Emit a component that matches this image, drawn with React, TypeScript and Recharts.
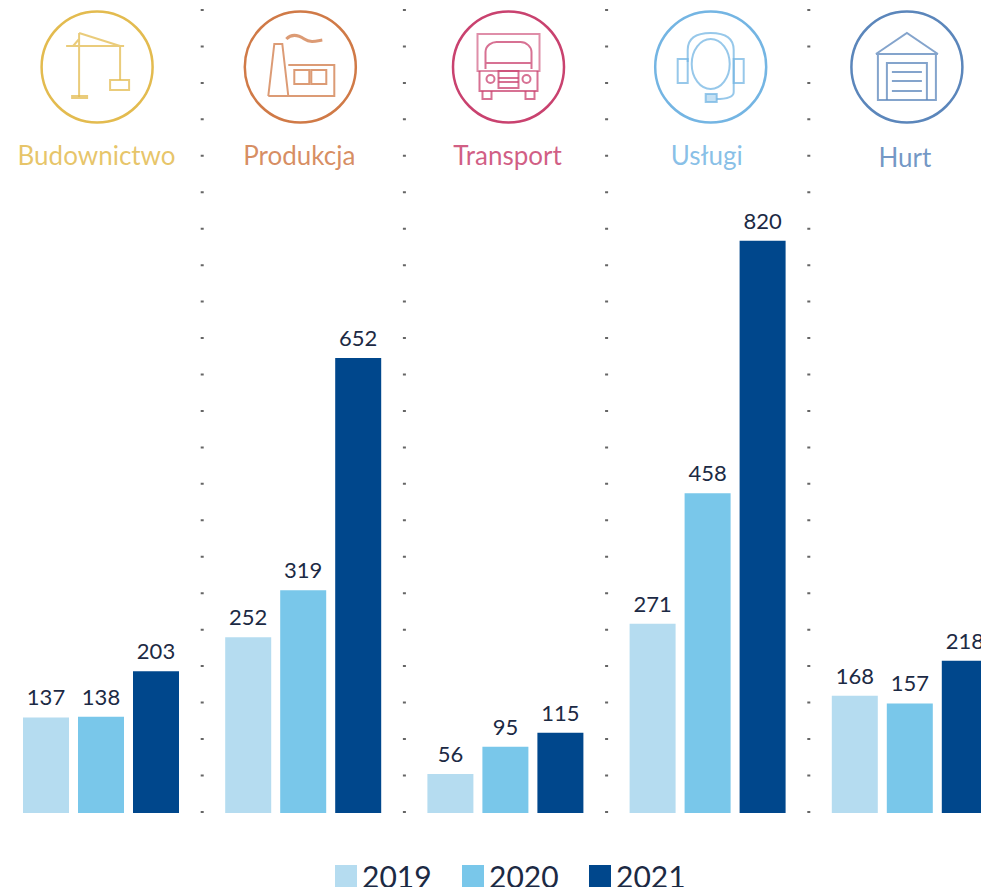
import React from "react"
import { BarChart, Bar, XAxis, YAxis, CartesianGrid, LabelList, Legend } from "recharts"

const categories = ["Budownictwo", "Produkcja", "Transport", "Usługi", "Hurt"]
const values2019 = [137, 252, 56, 271, 168]
const values2020 = [138, 319, 95, 458, 157]
const values2021 = [203, 652, 115, 820, 218]

const data = categories.map((name, i) => ({
  name,
  y2019: values2019[i],
  y2020: values2020[i],
  y2021: values2021[i],
}))

const FONT = "Lato, 'Open Sans', sans-serif"

function Crane() {
  return (
    <g>
      <path d="M-18 -34V30M-31 -21H27M-18 -34L23 -21M-24 -21L-18 -28M23 -21V13" />
      <rect x="13" y="13" width="19" height="10" />
      <path d="M-26 30H-9" strokeWidth={4} />
    </g>
  )
}

function Factory() {
  return (
    <g>
      <path d="M-32 29L-26 -23H-18L-12 29M-32 29H34V-2H-12" />
      <rect x="-6" y="3" width="15" height="14" />
      <rect x="11" y="3" width="15" height="14" />
      <path d="M-14 -28C-8 -34 -2 -32 4 -28C10 -24 16 -26 22 -27" strokeWidth={3} />
    </g>
  )
}

function Truck() {
  return (
    <g>
      <rect x="-31" y="-33" width="62" height="37" strokeOpacity={0.6} />
      <path d="M-23 2V-15C-23 -22 -16 -25 -12 -25H12C18 -25 23 -20 23 -15V2M-23 -4H23" />
      <path d="M-29 4V24H29V4" />
      <rect x="-10" y="4" width="20" height="17" />
      <path d="M-10 11H10M-10 15H10" />
      <circle cx="-18" cy="12" r="4" />
      <circle cx="18" cy="12" r="4" />
      <path d="M-26 24V32H-17V24M17 24V32H26V24" />
    </g>
  )
}

function Headset() {
  return (
    <g>
      <ellipse cx="0" cy="-3" rx="19" ry="25" />
      <path d="M-23 -5V-17C-23 -30 -12 -34 0 -34C12 -34 23 -30 23 -17V25C23 30 15 32 5 32" />
      <rect x="-33" y="-8" width="10" height="24" />
      <rect x="23" y="-8" width="10" height="24" />
      <rect x="-5" y="27" width="11" height="8" fill="#c5e1f4" />
    </g>
  )
}

function Garage() {
  return (
    <g>
      <path d="M-31 -13L0 -34L31 -13M-31 -13H31M-29 -13V33H29V-13" />
      <path d="M-20 33V-4H20V33M-15 5H15M-15 14H15M-15 24H15" />
    </g>
  )
}

const icons: Record<string, { color: string; dx: number; textDx: number; dy: number; Glyph: () => React.ReactElement }> = {
  Budownictwo: { color: "#e3bb4f", dx: -4, textDx: -0.5, dy: 0, Glyph: Crane },
  Produkcja: { color: "#d07a47", dx: -3, textDx: -1, dy: 0, Glyph: Factory },
  Transport: { color: "#c9426f", dx: 3, textDx: -1, dy: 0, Glyph: Truck },
  "Usługi": { color: "#74b5e3", dx: 3, textDx: -4, dy: 0, Glyph: Headset },
  Hurt: { color: "#5b86bb", dx: -3, textDx: -2, dy: 2, Glyph: Garage },
}

// tick draws the round icon and the sector name above the plot
function SectorTick({ x, payload }: any) {
  const icon = icons[payload.value]
  const cx = x + icon.dx
  const Glyph = icon.Glyph
  return (
    <g>
      <circle cx={cx} cy={67} r={55.5} fill="none" stroke={icon.color} strokeWidth={2.5} />
      <g transform={`translate(${cx} 67)`} fill="none" stroke={icon.color} strokeWidth={2} strokeOpacity={0.75}>
        <Glyph />
      </g>
      <text x={cx + icon.textDx} y={165 + icon.dy} textAnchor="middle" fontFamily={FONT} fontSize={26} fill={icon.color} fillOpacity={0.85}>
        {payload.value}
      </text>
    </g>
  )
}

function YearLegend({ payload }: any) {
  return (
    <div style={{ display: "flex", fontFamily: FONT, fontSize: 30, lineHeight: "24px", color: "#1c2a44" }}>
      {(payload || []).map((p: any) => (
        <div key={p.value} style={{ display: "flex", alignItems: "center", width: 127 }}>
          <span style={{ width: 22, height: 22, background: p.color, marginRight: 5 }} />
          {p.value}
        </div>
      ))}
    </div>
  )
}

const dividers = ({ offset }: any) => [1, 2, 3, 4].map((i) => offset.left + (offset.width * i) / 5)

const labelStyle = { fontFamily: FONT, fontSize: 22, fill: "#1c2a44" }

export default function App() {
  return (
    <div style={{ position: "absolute", left: 0, top: 0, width: 981, height: 887, overflow: "hidden", background: "#fff" }}>
      <BarChart
        width={1011}
        height={887}
        data={data}
        margin={{ top: 9, right: 0, left: 0, bottom: 0 }}
        barSize={46}
        barGap={9}
      >
        <CartesianGrid
          horizontal={false}
          verticalCoordinatesGenerator={dividers}
          stroke="#666"
          strokeWidth={3}
          strokeDasharray="2 34.45"
        />
        <XAxis dataKey="name" height={50} axisLine={false} tickLine={false} tick={<SectorTick />} interval={0} />
        <YAxis hide domain={[0, 1152]} />
        <Legend
          content={<YearLegend />}
          wrapperStyle={{ left: 335, top: 864, width: 400, height: 24, bottom: "auto" }}
        />
        <Bar dataKey="y2019" name="2019" fill="#b5dcf0" isAnimationActive={false}>
          <LabelList dataKey="y2019" position="top" offset={12} style={labelStyle} />
        </Bar>
        <Bar dataKey="y2020" name="2020" fill="#79c7ea" isAnimationActive={false}>
          <LabelList dataKey="y2020" position="top" offset={12} style={labelStyle} />
        </Bar>
        <Bar dataKey="y2021" name="2021" fill="#00478c" isAnimationActive={false}>
          <LabelList dataKey="y2021" position="top" offset={12} style={labelStyle} />
        </Bar>
      </BarChart>
    </div>
  )
}
